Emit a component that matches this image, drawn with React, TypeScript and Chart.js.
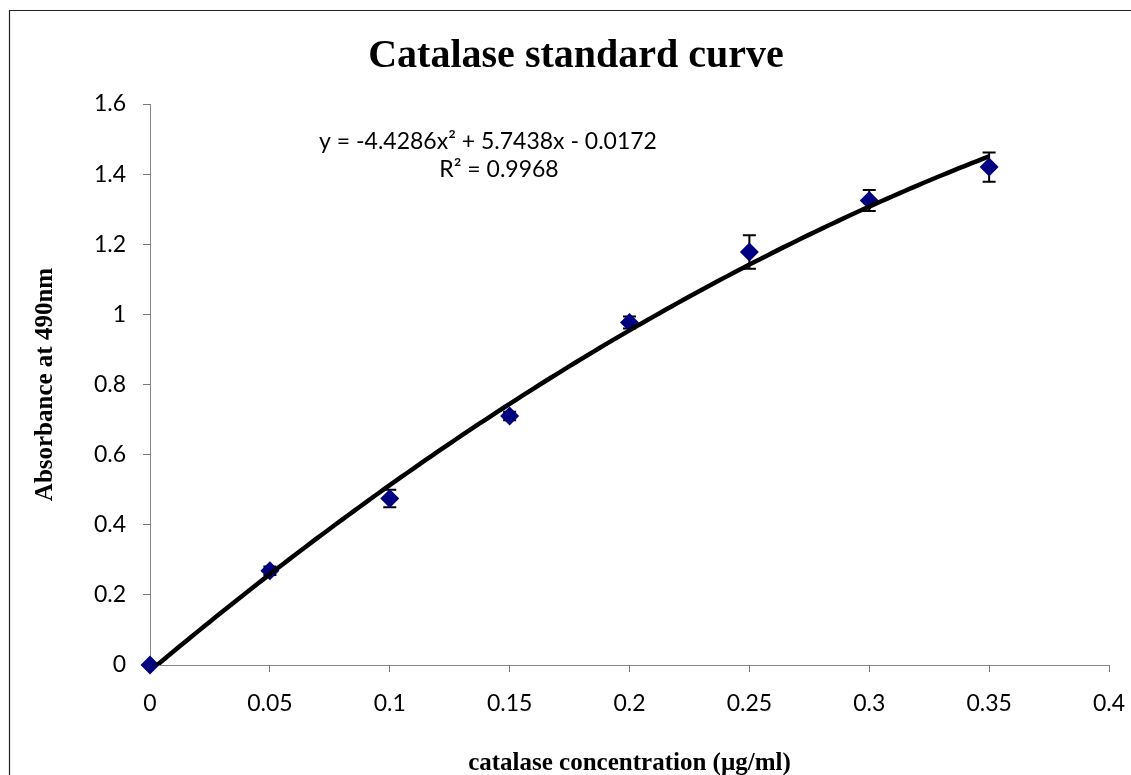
import React, { useEffect, useRef } from 'react';
import { Chart, registerables } from 'chart.js';

Chart.register(...registerables);

const concentrations = [0, 0.05, 0.1, 0.15, 0.2, 0.25, 0.3, 0.35];
const absorbance = [0, 0.269, 0.475, 0.71, 0.977, 1.178, 1.325, 1.42];
const errorValues = [0, 0.012, 0.025, 0.012, 0.017, 0.048, 0.03, 0.042];
const trendCoefficients = [-4.4286, 5.7438, -0.0172];
const trendRange = [0, 0.35];
const xTickLabels = ['0', '0.05', '0.1', '0.15', '0.2', '0.25', '0.3', '0.35', '0.4'];
const yTickLabels = ['0', '0.2', '0.4', '0.6', '0.8', '1', '1.2', '1.4', '1.6'];
const chartTitle = 'Catalase standard curve';
const xTitle = 'catalase concentration (\u00b5g/ml)';
const yTitle = 'Absorbance at 490nm';
const equationLines = ['y = -4.4286x\u00b2 + 5.7438x - 0.0172', 'R\u00b2 = 0.9968'];

const TICK_FONT = { family: 'Lato, "Noto Sans", sans-serif', size: 23 };

export default function App() {
  const ref = useRef<HTMLCanvasElement | null>(null);

  useEffect(() => {
    if (!ref.current) return;

    const trendPoints: { x: number; y: number }[] = [];
    const steps = 140;
    for (let i = 0; i <= steps; i++) {
      const x = trendRange[0] + ((trendRange[1] - trendRange[0]) * i) / steps;
      const [a, b, c] = trendCoefficients;
      trendPoints.push({ x, y: a * x * x + b * x + c });
    }

    const errorBarPlugin = {
      id: 'errorBars',
      beforeDatasetsDraw(chart: any) {
        const { ctx, scales } = chart;
        const xs = scales.x;
        const ys = scales.y;
        ctx.save();
        ctx.strokeStyle = '#000';
        ctx.lineWidth = 2;
        concentrations.forEach((cx, i) => {
          const e = errorValues[i];
          if (!e) return;
          const px = xs.getPixelForValue(cx);
          const top = ys.getPixelForValue(absorbance[i] + e);
          const bot = ys.getPixelForValue(absorbance[i] - e);
          ctx.beginPath();
          ctx.moveTo(px, top);
          ctx.lineTo(px, bot);
          ctx.moveTo(px - 6.5, top);
          ctx.lineTo(px + 6.5, top);
          ctx.moveTo(px - 6.5, bot);
          ctx.lineTo(px + 6.5, bot);
          ctx.stroke();
        });
        ctx.restore();
      },
    };

    const textPlugin = {
      id: 'texts',
      afterDraw(chart: any) {
        const { ctx } = chart;
        ctx.save();
        // outer border
        ctx.strokeStyle = '#222';
        ctx.lineWidth = 1.2;
        ctx.beginPath();
        ctx.moveTo(9.5, 775);
        ctx.lineTo(9.5, 10.5);
        ctx.lineTo(1131, 10.5);
        ctx.stroke();

        ctx.fillStyle = '#000';
        // main title
        ctx.font = 'bold 40px "Liberation Serif", "Times New Roman", serif';
        ctx.textAlign = 'center';
        ctx.textBaseline = 'alphabetic';
        ctx.fillText(chartTitle, 576, 67);

        // x title
        ctx.font = 'bold 25px "Liberation Serif", "Times New Roman", serif';
        const ca = chart.chartArea;
        ctx.fillText(xTitle, (ca.left + ca.right) / 2, 770);

        // y title
        ctx.save();
        ctx.translate(52, (ca.top + ca.bottom) / 2);
        ctx.rotate(-Math.PI / 2);
        ctx.textAlign = 'center';
        ctx.fillText(yTitle, 0, 0);
        ctx.restore();

        // equation
        ctx.font = '23px Lato, "Noto Sans", sans-serif';
        ctx.textAlign = 'center';
        ctx.fillText(equationLines[0], 488, 149);
        ctx.fillText(equationLines[1], 499, 177);
        ctx.restore();
      },
    };

    const chart = new Chart(ref.current, {
      type: 'scatter',
      data: {
        datasets: [
          {
            label: 'Trend',
            type: 'line',
            data: trendPoints,
            borderColor: '#000',
            borderWidth: 4.5,
            pointRadius: 0,
            fill: false,
            tension: 0,
            order: 0,
          } as any,
          {
            label: 'Absorbance',
            data: concentrations.map((x, i) => ({ x, y: absorbance[i] })),
            pointStyle: 'rectRot',
            pointRadius: 9.5,
            pointBackgroundColor: '#000080',
            pointBorderColor: '#000080',
            pointBorderWidth: 0,
            clip: false,
            order: 1,
          } as any,
        ],
      },
      options: {
        animation: false,
        responsive: false,
        maintainAspectRatio: false,
        layout: { padding: { left: 0, top: 104, right: 22, bottom: 0 } },
        plugins: {
          legend: { display: false },
          tooltip: { enabled: false },
          title: { display: false },
        },
        scales: {
          x: {
            type: 'linear',
            min: 0,
            max: 0.4,
            ticks: {
              stepSize: 0.05,
              autoSkip: false,
              maxRotation: 0,
              color: '#000',
              font: TICK_FONT,
              padding: 18,
              callback: (_v: any, i: number) => xTickLabels[i],
            },
            grid: { drawOnChartArea: false, drawTicks: true, tickLength: 7, color: '#777' },
            border: { color: '#868686', width: 1 },
            afterFit: (s: any) => {
              s.height = 110;
              s.paddingLeft = 0;
              s.paddingRight = 0;
            },
          },
          y: {
            type: 'linear',
            min: 0,
            max: 1.6,
            ticks: {
              stepSize: 0.2,
              autoSkip: false,
              color: '#000',
              font: TICK_FONT,
              padding: 17,
              callback: (_v: any, i: number) => yTickLabels[i],
            },
            grid: { drawOnChartArea: false, drawTicks: true, tickLength: 7, color: '#777' },
            border: { color: '#868686', width: 1 },
            afterFit: (s: any) => {
              s.width = 150;
              s.paddingTop = 0;
              s.paddingBottom = 0;
            },
          },
        },
      },
      plugins: [errorBarPlugin, textPlugin],
    });

    return () => chart.destroy();
  }, []);

  return (
    <div style={{ position: 'absolute', left: 0, top: 0, width: 1131, height: 775, background: '#fff' }}>
      <canvas ref={ref} width={1131} height={775} style={{ display: 'block' }} />
    </div>
  );
}
